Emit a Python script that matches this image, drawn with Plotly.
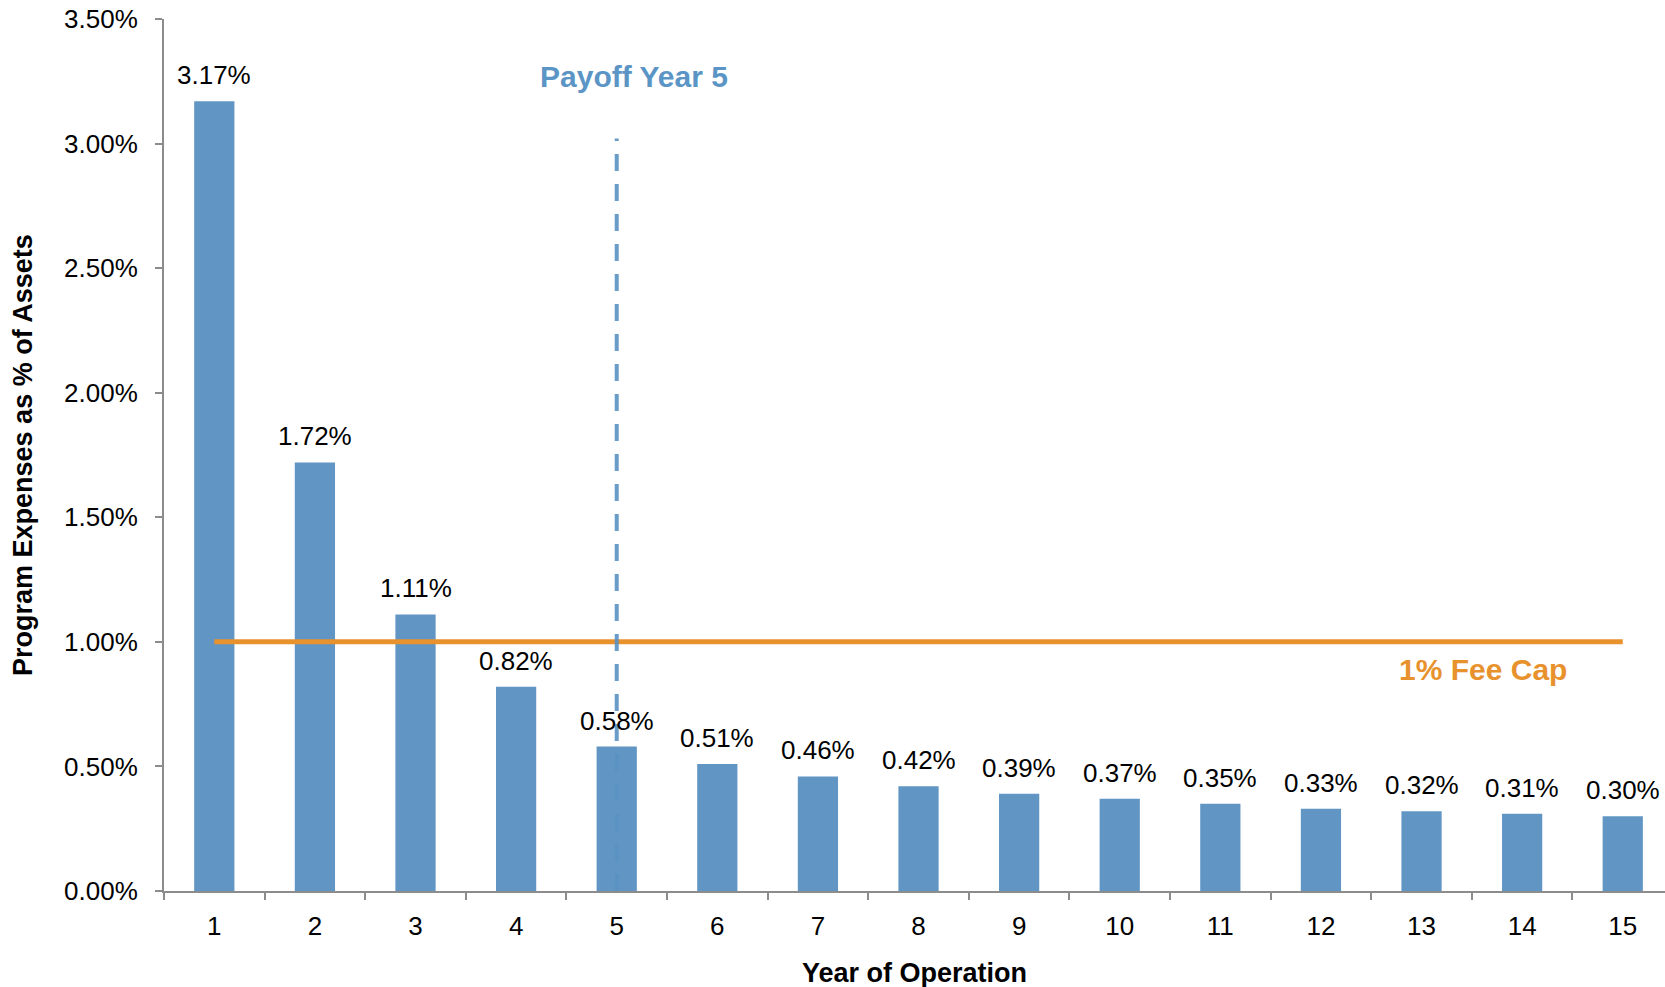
import plotly.graph_objects as go

years = list(range(1, 16))
expense_pct = [3.17, 1.72, 1.11, 0.82, 0.58, 0.51, 0.46, 0.42, 0.39, 0.37, 0.35, 0.33, 0.32, 0.31, 0.30]
labels = [f"{v:.2f}%" for v in expense_pct]
fee_cap_x = [1, 15]
fee_cap_y = [1.0, 1.0]
payoff_x = [5, 5]
payoff_y = [0.0, 3.02]
y_ticks = [0, 0.5, 1.0, 1.5, 2.0, 2.5, 3.0, 3.5]
y_ticktext = [f"{v:.2f}%" for v in y_ticks]

FONT = "Liberation Sans, Arial, sans-serif"
BLUE = "#6196c4"
DASH_BLUE = "#5a92c3"
ORANGE = "#e8922e"
AXIS = "#8c8c8c"

fig = go.Figure()
fig.add_trace(go.Bar(x=years, y=expense_pct, width=0.4,
                     marker=dict(color=BLUE, line=dict(width=0)),
                     hoverinfo="x+y", showlegend=False))
fig.add_trace(go.Scatter(x=fee_cap_x, y=fee_cap_y, mode="lines",
                         line=dict(color=ORANGE, width=5), showlegend=False))
fig.add_trace(go.Scatter(x=payoff_x, y=payoff_y, mode="lines",
                         line=dict(color=DASH_BLUE, width=4, dash="17px,13px"),
                         opacity=0.9, showlegend=False))

for x, y, t in zip(years, expense_pct, labels):
    fig.add_annotation(x=x, y=y, text=t, showarrow=False, yanchor="bottom",
                       yshift=9, font=dict(family=FONT, size=26, color="#000000"))

fig.add_annotation(x=5.17, y=3.27, text="<b>Payoff Year 5</b>", showarrow=False,
                   font=dict(family=FONT, size=30, color="#5b95c5"))
fig.add_annotation(x=13.61, y=0.89, text="<b>1% Fee Cap</b>", showarrow=False,
                   font=dict(family=FONT, size=30, color=ORANGE))

fig.add_annotation(xref="paper", yref="paper", x=0, y=0.5, xshift=-141,
                   xanchor="center", yanchor="middle",
                   text="<b>Program Expenses as % of Assets</b>", textangle=-90,
                   showarrow=False, font=dict(family=FONT, size=27, color="#000000"))
fig.add_annotation(xref="paper", yref="paper", x=0.5, y=0, yshift=-82,
                   xanchor="center", yanchor="middle",
                   text="<b>Year of Operation</b>", showarrow=False,
                   font=dict(family=FONT, size=27, color="#000000"))

fig.update_layout(
    width=1665, height=987,
    margin=dict(l=164, r=0, t=19, b=96),
    paper_bgcolor="white", plot_bgcolor="white",
    font=dict(family=FONT, size=26, color="#000000"),
    xaxis=dict(range=[0.5, 15.42], tickvals=years, ticktext=[str(y) for y in years],
               ticks="", showgrid=False, zeroline=False,
               showline=True, linecolor=AXIS, linewidth=2,
               ticklabelstandoff=11,
               minor=dict(tickvals=[i + 0.5 for i in range(0, 16)], ticks="outside",
                          ticklen=7, tickcolor=AXIS, tickwidth=2, showgrid=False),
               tickfont=dict(family=FONT, size=26, color="#000000")),
    yaxis=dict(range=[0, 3.5], tickvals=y_ticks, ticktext=y_ticktext,
               ticks="outside", ticklen=7, tickcolor=AXIS, tickwidth=2,
               showgrid=False, zeroline=False,
               showline=True, linecolor=AXIS, linewidth=2,
               ticklabelstandoff=12,
               tickfont=dict(family=FONT, size=26, color="#000000")),
)

fig.write_html("out.html")
